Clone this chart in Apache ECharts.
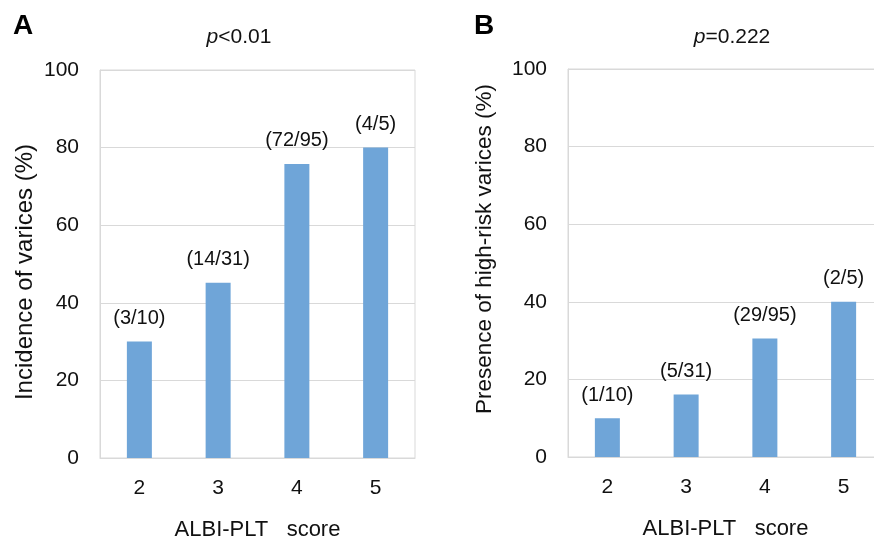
<!DOCTYPE html>
<html>
<head>
<meta charset="utf-8">
<script src="https://cdn.jsdelivr.net/npm/echarts@6/dist/echarts.min.js"></script>
<style>
html,body{margin:0;padding:0;background:#fff;overflow:hidden;}
#main{width:900px;height:543px;}
</style>
</head>
<body>
<div id="main"></div>
<script>
var categories = ['2', '3', '4', '5'];
var numeratorA = [3, 14, 72, 4];
var denominatorA = [10, 31, 95, 5];
var numeratorB = [1, 5, 29, 2];
var denominatorB = [10, 31, 95, 5];
var yTicks = [0, 20, 40, 60, 80, 100];

function pct(n, d) { return n.map(function (v, i) { return v / d[i] * 100; }); }
function fracLabels(n, d) { return n.map(function (v, i) { return '(' + v + '/' + d[i] + ')'; }); }

var valuesA = pct(numeratorA, denominatorA);
var valuesB = pct(numeratorB, denominatorB);
var labelsA = fracLabels(numeratorA, denominatorA);
var labelsB = fracLabels(numeratorB, denominatorB);

var FONT = '"Liberation Sans", Arial, sans-serif';
var GRID_COLOR = '#d9d9d9';
var BAR_COLOR = '#6fa5d8';
var TEXT = '#111111';

function xAxis(idx) {
  return {
    type: 'category', gridIndex: idx, data: categories,
    axisLine: { show: true, lineStyle: { color: GRID_COLOR, width: 1 } },
    axisTick: { show: false },
    axisLabel: { color: TEXT, fontSize: 21, fontFamily: FONT, margin: 20 },
    name: 'ALBI-PLT   score', nameLocation: 'middle', nameGap: 61,
    nameTextStyle: { color: TEXT, fontSize: 22, fontFamily: FONT }
  };
}
function yAxis(idx) {
  return {
    type: 'value', gridIndex: idx, min: 0, max: 100, interval: 20,
    axisLine: { show: true, lineStyle: { color: GRID_COLOR, width: 1 } },
    axisTick: { show: false },
    splitLine: { show: true, lineStyle: { color: GRID_COLOR, width: 1 } },
    axisLabel: { color: TEXT, fontSize: 21, fontFamily: FONT, margin: 21,
      formatter: function (v) { return yTicks.indexOf(v) >= 0 ? String(v) : ''; } }
  };
}
function barSeries(idx, values, labels) {
  return {
    type: 'bar', xAxisIndex: idx, yAxisIndex: idx, data: values,
    barWidth: 25,
    itemStyle: { color: BAR_COLOR },
    label: {
      show: true, position: 'top', distance: 13,
      color: TEXT, fontSize: 20, fontFamily: FONT,
      formatter: function (p) { return labels[p.dataIndex]; }
    },
    silent: true, animation: false
  };
}

var chart = echarts.init(document.getElementById('main'), null, { renderer: 'canvas' });
chart.setOption({
  backgroundColor: '#ffffff',
  animation: false,
  grid: [
    { left: 100, top: 70, width: 315, height: 388, show: true, borderColor: GRID_COLOR, borderWidth: 1, containLabel: false, outerBoundsMode: 'none' },
    { left: 568, top: 69, width: 315, height: 388, show: true, borderColor: GRID_COLOR, borderWidth: 1, containLabel: false, outerBoundsMode: 'none' }
  ],
  xAxis: [xAxis(0), xAxis(1)],
  yAxis: [yAxis(0), yAxis(1)],
  series: [barSeries(0, valuesA, labelsA), barSeries(1, valuesB, labelsB)],
  graphic: [
    { type: 'text', left: 13, top: 12, style: { text: 'A', font: 'bold 28px ' + FONT, fill: '#000' } },
    { type: 'text', left: 474, top: 12, style: { text: 'B', font: 'bold 28px ' + FONT, fill: '#000' } },
    { type: 'text', x: 239, y: 37, style: {
      text: '{i|p}<0.01', align: 'center', verticalAlign: 'middle',
      font: '21px ' + FONT, fill: TEXT,
      rich: { i: { fontStyle: 'italic', fontSize: 21, fontFamily: FONT, fill: TEXT } } } },
    { type: 'text', x: 732, y: 37, style: {
      text: '{i|p}=0.222', align: 'center', verticalAlign: 'middle',
      font: '21px ' + FONT, fill: TEXT,
      rich: { i: { fontStyle: 'italic', fontSize: 21, fontFamily: FONT, fill: TEXT } } } },
    { type: 'text', x: 25, y: 272, rotation: Math.PI / 2, style: {
      text: 'Incidence of varices (%)', align: 'center', verticalAlign: 'middle',
      font: '24px ' + FONT, fill: TEXT } },
    { type: 'text', x: 485, y: 249, rotation: Math.PI / 2, style: {
      text: 'Presence of high-risk varices (%)', align: 'center', verticalAlign: 'middle',
      font: '22.5px ' + FONT, fill: TEXT } }
  ]
});
</script>
</body>
</html>
